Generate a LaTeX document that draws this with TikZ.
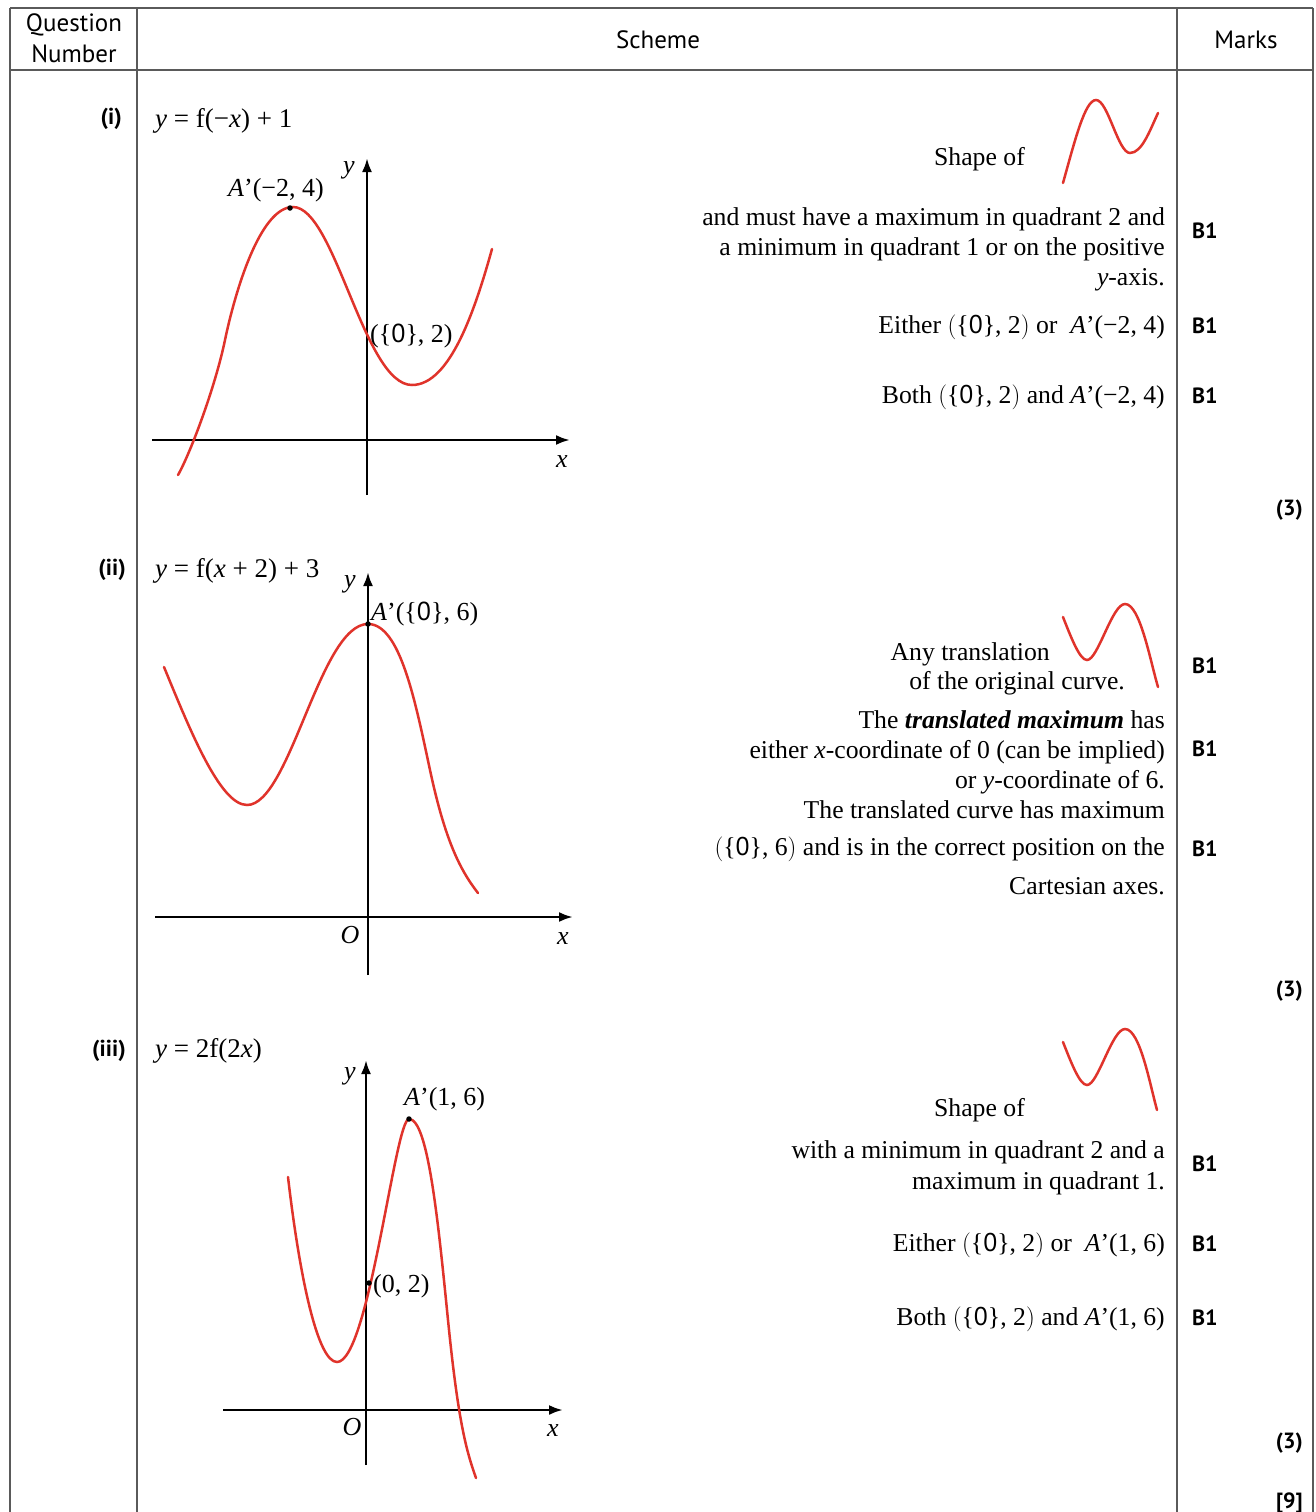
\documentclass[tikz,border=0pt]{standalone}
\usepackage{fontspec}
\setmainfont{Liberation Serif}
\setsansfont{PT Sans}
\usetikzlibrary{arrows.meta}
\definecolor{curvered}{HTML}{E0332B}
\definecolor{tablegray}{HTML}{5A5A5A}
\newcommand\zo{\{\textsf{0}\}}
\newcommand\bpar[1]{$\Bigl($#1$\Bigr)$}
\newcommand\ia{\textit{A}'}
\begin{document}
\begin{tikzpicture}[x=1pt,y=-1pt,
 tline/.style={draw=tablegray, line width=2.2pt},
 axisline/.style={line width=2.6pt, -{Latex[length=14pt,width=10pt]}},
 redcurve/.style={draw=curvered, line width=2.5pt, line cap=round},
 bodytxt/.style={font=\fontsize{25.7}{30}\selectfont, inner sep=0pt, anchor=base east},
 lbl/.style={font=\fontsize{26}{30}\selectfont, inner sep=0pt},
 ttl/.style={font=\fontsize{27}{30}\selectfont, inner sep=0pt, anchor=base west},
 mk/.style={font=\sffamily\bfseries\fontsize{22}{26}\selectfont, inner sep=0pt, anchor=base west},
 mkr/.style={font=\sffamily\bfseries\fontsize{22}{26}\selectfont, inner sep=0pt, anchor=base east},
 hdr/.style={font=\sffamily\fontsize{25}{28}\selectfont, inner sep=0pt},
 ptdot/.style={circle, fill=black, inner sep=0pt, minimum size=5.5pt}]
\useasboundingbox[fill=white] (0,0) rectangle (1315,1512);

% ---- table frame
\coordinate (tl) at (10,8); \coordinate (tr) at (1313,8);
\coordinate (hl) at (10,70); \coordinate (hr) at (1313,70);
\coordinate (v1t) at (10,8); \coordinate (v1b) at (10,1512);
\coordinate (v2t) at (137,8); \coordinate (v2b) at (137,1512);
\coordinate (v3t) at (1177,8); \coordinate (v3b) at (1177,1512);
\coordinate (v4t) at (1313,8); \coordinate (v4b) at (1313,1512);
\draw[tline] (tl) -- (tr);
\draw[tline] (hl) -- (hr);
\draw[tline] (v1t) -- (v1b);
\draw[tline] (v2t) -- (v2b);
\draw[tline] (v3t) -- (v3b);
\draw[tline] (v4t) -- (v4b);

\node[hdr] (hq1) at (74,25) {Question};
\node[hdr] (hq2) at (74,54) {Number};
\node[hdr] (hs) at (658,40) {Scheme};
\node[hdr] (hm) at (1246,40) {Marks};

% ---- question labels
\node[mkr, font=\sffamily\bfseries\fontsize{23}{26}\selectfont] (qi) at (122,124) {(i)};
\node[mkr, font=\sffamily\bfseries\fontsize{23}{26}\selectfont] (qii) at (126,575) {(ii)};
\node[mkr, font=\sffamily\bfseries\fontsize{23}{26}\selectfont] (qiii) at (126,1056) {(iii)};

% ---- graph titles
\node[ttl] (ti) at (155,127) {\textit{y} = f(−\textit{x}) + 1};
\node[ttl] (tii) at (155,577) {\textit{y} = f(\textit{x} + 2) + 3};
\node[ttl] (tiii) at (155,1057) {\textit{y} = 2f(2\textit{x})};

% ================= graph (i)
\coordinate (iaxl) at (152,440); \coordinate (iaxr) at (570,440);
\coordinate (iayb) at (367,495); \coordinate (iayt) at (367,158);
\draw[axisline] (iaxl) -- (iaxr);
\draw[axisline] (iayb) -- (iayt);
\draw[redcurve] (178,475) .. controls (190,454) and (215,388) .. (225,340)
  .. controls (235,292) and (260,207) .. (293,207)
  .. controls (335,207) and (364,385) .. (412,385)
  .. controls (450,385) and (475,310) .. (492,249);
\node[ptdot] (ia) at (290,208) {};
\node[lbl] (iylab) at (349,170) {\textit{y}};
\node[lbl] (ixlab) at (562,462) {\textit{x}};
\node[lbl] (ialab) at (276,190) {\ia(−2, 4)};
\node[lbl, anchor=west] (ib) at (370,336) {(\zo, 2)};

% ================= graph (ii)
\coordinate (iiaxl) at (155,917); \coordinate (iiaxr) at (573,917);
\coordinate (iiayb) at (368,975); \coordinate (iiayt) at (368,572);
\draw[axisline] (iiaxl) -- (iiaxr);
\draw[axisline] (iiayb) -- (iiayt);
\draw[redcurve] (164,667) .. controls (190,730) and (220,805) .. (247,805)
  .. controls (290,805) and (320,624) .. (368,624)
  .. controls (400,624) and (415,700) .. (430,770)
  .. controls (445,840) and (460,870) .. (478,893);
\node[ptdot] (iia) at (368,624) {};
\node[lbl] (iiylab) at (350,584) {\textit{y}};
\node[lbl] (iixlab) at (563,939) {\textit{x}};
\node[lbl] (iio) at (350,935) {\textit{O}};
\node[lbl, anchor=west] (iialab) at (371,614) {\ia(\zo, 6)};

% ================= graph (iii)
\coordinate (iiiaxl) at (223,1410); \coordinate (iiiaxr) at (563,1410);
\coordinate (iiiayb) at (366,1465); \coordinate (iiiayt) at (366,1060);
\draw[axisline] (iiiaxl) -- (iiiaxr);
\draw[axisline] (iiiayb) -- (iiiayt);
\draw[redcurve] (288,1177) .. controls (300,1280) and (318,1362) .. (337,1362)
  .. controls (369,1362) and (395,1119) .. (409,1119)
  .. controls (428,1119) and (438,1220) .. (448,1320)
  .. controls (458,1420) and (466,1450) .. (476,1478);
\node[ptdot] (iiia) at (409,1119) {};
\node[ptdot] (iiib) at (369,1283) {};
\node[lbl] (iiiylab) at (350,1076) {\textit{y}};
\node[lbl] (iiixlab) at (553,1431) {\textit{x}};
\node[lbl] (iiio) at (352,1427) {\textit{O}};
\node[lbl, anchor=west] (iiialab) at (404,1099) {\ia(1, 6)};
\node[lbl, anchor=west] (iiiblab) at (373,1286) {(0, 2)};

% ================= scheme text (i)
\node[bodytxt] (s1a) at (1025,165) {Shape of};
\draw[redcurve] (1063,183) .. controls (1075,140) and (1085,100) .. (1096,100)
  .. controls (1108,100) and (1118,153) .. (1130,153)
  .. controls (1142,153) and (1150,130) .. (1158,113);
\node[bodytxt] (s1b) at (1165,225) {and must have a maximum in quadrant 2 and};
\node[bodytxt] (s1c) at (1165,255) {a minimum in quadrant 1 or on the positive};
\node[bodytxt] (s1d) at (1165,285) {\textit{y}-axis.};
\node[bodytxt] (s1e) at (1165,333) {Either \bpar{\zo, 2} or \ \ia(−2, 4)};
\node[bodytxt] (s1f) at (1165,403) {Both \bpar{\zo, 2} and \ia(−2, 4)};
\node[mk] (m1a) at (1192,238) {B1};
\node[mk] (m1b) at (1192,333) {B1};
\node[mk] (m1c) at (1192,403) {B1};
\node[mkr] (m1t) at (1303,515) {(3)};

% ================= scheme text (ii)
\draw[redcurve] (1063,617) .. controls (1072,640) and (1080,660) .. (1087,660)
  .. controls (1098,660) and (1112,604) .. (1125,604)
  .. controls (1140,604) and (1150,660) .. (1158,687);
\node[bodytxt] (s2a) at (1050,660) {Any translation};
\node[bodytxt] (s2b) at (1125,689) {of the original curve.};
\node[bodytxt] (s2c) at (1165,728) {The \textbf{\textit{translated maximum}} has};
\node[bodytxt] (s2d) at (1165,758) {either \textit{x}-coordinate of 0 (can be implied)};
\node[bodytxt] (s2e) at (1165,788) {or \textit{y}-coordinate of 6.};
\node[bodytxt] (s2f) at (1165,818) {The translated curve has maximum};
\node[bodytxt] (s2g) at (1165,855) {\bpar{\zo, 6} and is in the correct position on the};
\node[bodytxt] (s2h) at (1165,894) {Cartesian axes.};
\node[mk] (m2a) at (1192,673) {B1};
\node[mk] (m2b) at (1192,756) {B1};
\node[mk] (m2c) at (1192,856) {B1};
\node[mkr] (m2t) at (1303,996) {(3)};

% ================= scheme text (iii)
\draw[redcurve] (1063,1042) .. controls (1072,1065) and (1080,1085) .. (1087,1085)
  .. controls (1098,1085) and (1112,1029) .. (1125,1029)
  .. controls (1140,1029) and (1150,1085) .. (1157,1110);
\node[bodytxt] (s3a) at (1025,1116) {Shape of};
\node[bodytxt] (s3b) at (1165,1158) {with a minimum in quadrant 2 and a};
\node[bodytxt] (s3c) at (1165,1189) {maximum in quadrant 1.};
\node[bodytxt] (s3d) at (1165,1251) {Either \bpar{\zo, 2} or \ \ia(1, 6)};
\node[bodytxt] (s3e) at (1165,1325) {Both \bpar{\zo, 2} and \ia(1, 6)};
\node[mk] (m3a) at (1192,1171) {B1};
\node[mk] (m3b) at (1192,1251) {B1};
\node[mk] (m3c) at (1192,1325) {B1};
\node[mkr] (m3t) at (1303,1448) {(3)};
\node[mkr] (mtot) at (1303,1508) {[9]};
\end{tikzpicture}
\end{document}
